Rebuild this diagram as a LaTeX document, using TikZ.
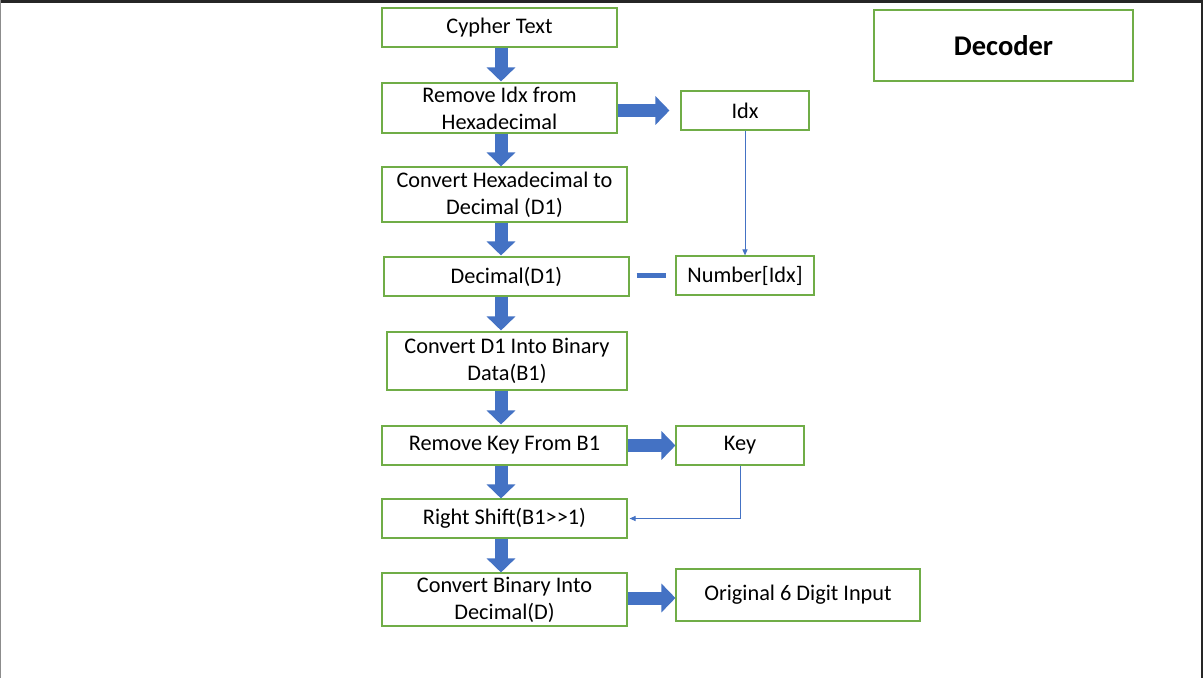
\documentclass[tikz,border=0pt]{standalone}
\usepackage{fontspec}
\setmainfont{Carlito}
\usetikzlibrary{arrows.meta,calc}
\definecolor{boxgreen}{HTML}{70AD47}
\definecolor{arrblue}{HTML}{4472C4}
\begin{document}
\begin{tikzpicture}[x=1pt,y=-1pt,
  stepbox/.style={draw=boxgreen,line width=1.1pt,rectangle,inner sep=0pt,align=center,
    font=\fontsize{22.3}{26.8}\selectfont,text=black},
  barrow/.style={draw=arrblue,line width=13pt,-{Triangle[width=28pt,length=14pt]}},
  thinarrow/.style={draw=arrblue,line width=1pt,-{Triangle[width=5pt,length=6pt]}}]
\useasboundingbox (0,0) rectangle (1203,678);
\fill[white] (0,0) rectangle (1203,678);
% screenshot frame
\fill[black!85] (0,0) rectangle (1203,2.5);
\fill[black!85] (1200.5,0) rectangle (1203,678);
\fill[black!45] (0,0) rectangle (1,678);

\node[stepbox,minimum width=235pt,minimum height=39pt] (cypher) at (499.5,27.5) {Cypher Text};
\node[stepbox,minimum width=235pt,minimum height=50pt] (remidx) at (499.5,108) {Remove Idx from\\Hexadecimal};
\node[stepbox,minimum width=128pt,minimum height=39pt] (idx) at (745,110.5) {Idx};
\node[stepbox,minimum width=245pt,minimum height=55pt] (convhex) at (504.5,194.5) {Convert Hexadecimal to\\Decimal (D1)};
\node[stepbox,minimum width=245pt,minimum height=39pt] (dec) at (506.5,276.5) {Decimal(D1)};
\node[stepbox,minimum width=138pt,minimum height=39pt] (num) at (745,275.5) {Number[Idx]};
\node[stepbox,minimum width=240pt,minimum height=58pt] (convd1) at (507,361) {Convert D1 Into Binary\\Data(B1)};
\node[stepbox,minimum width=245pt,minimum height=39pt] (remkey) at (504.5,445.5) {Remove Key From B1};
\node[stepbox,minimum width=128pt,minimum height=39pt] (key) at (740,445.5) {Key};
\node[stepbox,minimum width=245pt,minimum height=39pt] (rshift) at (504.5,518.5) {Right Shift(B1>{}>1)};
\node[stepbox,minimum width=245pt,minimum height=53pt] (convbin) at (504.5,599.5) {Convert Binary Into\\Decimal(D)};
\node[stepbox,minimum width=244pt,minimum height=52pt] (orig) at (798,595) {Original 6 Digit Input};
\node[stepbox,minimum width=259pt,minimum height=71pt,font=\fontsize{28.5}{34}\selectfont\bfseries] (decoder) at (1003.5,45.5) {Decoder};

\coordinate (ax) at (501,0);
% vertical block arrows
\draw[barrow] (cypher.south -| ax) -- ($(remidx.north -| ax)+(0,-1)$);
\draw[barrow] (remidx.south -| ax) -- (convhex.north -| ax);
\draw[barrow] (convhex.south -| ax) -- ($(dec.north -| ax)+(0,-1)$);
\draw[barrow] (dec.south -| ax) -- ($(convd1.north -| ax)+(0,-1)$);
\draw[barrow] (convd1.south -| ax) -- ($(remkey.north -| ax)+(0,-1)$);
\draw[barrow] (remkey.south -| ax) -- (rshift.north -| ax);
\draw[barrow] (rshift.south -| ax) -- (convbin.north -| ax);
% horizontal block arrows
\draw[barrow,shorten >=11pt] (remidx.east |- idx.west) -- (idx.west);
\draw[barrow] (remkey.east) -- (key.west);
\coordinate (h3) at (0,598);
\draw[barrow] (convbin.east |- h3) -- (orig.west |- h3);
% dash between Decimal and Number
\draw[arrblue,line width=5pt,shorten <=7pt,shorten >=9pt] (dec.east |- num.west) -- (num.west);
% thin arrows
\draw[thinarrow] (idx.south) -- (num.north);
\draw[thinarrow,shorten >=2pt] (key.south) |- (rshift.east);
\end{tikzpicture}
\end{document}
